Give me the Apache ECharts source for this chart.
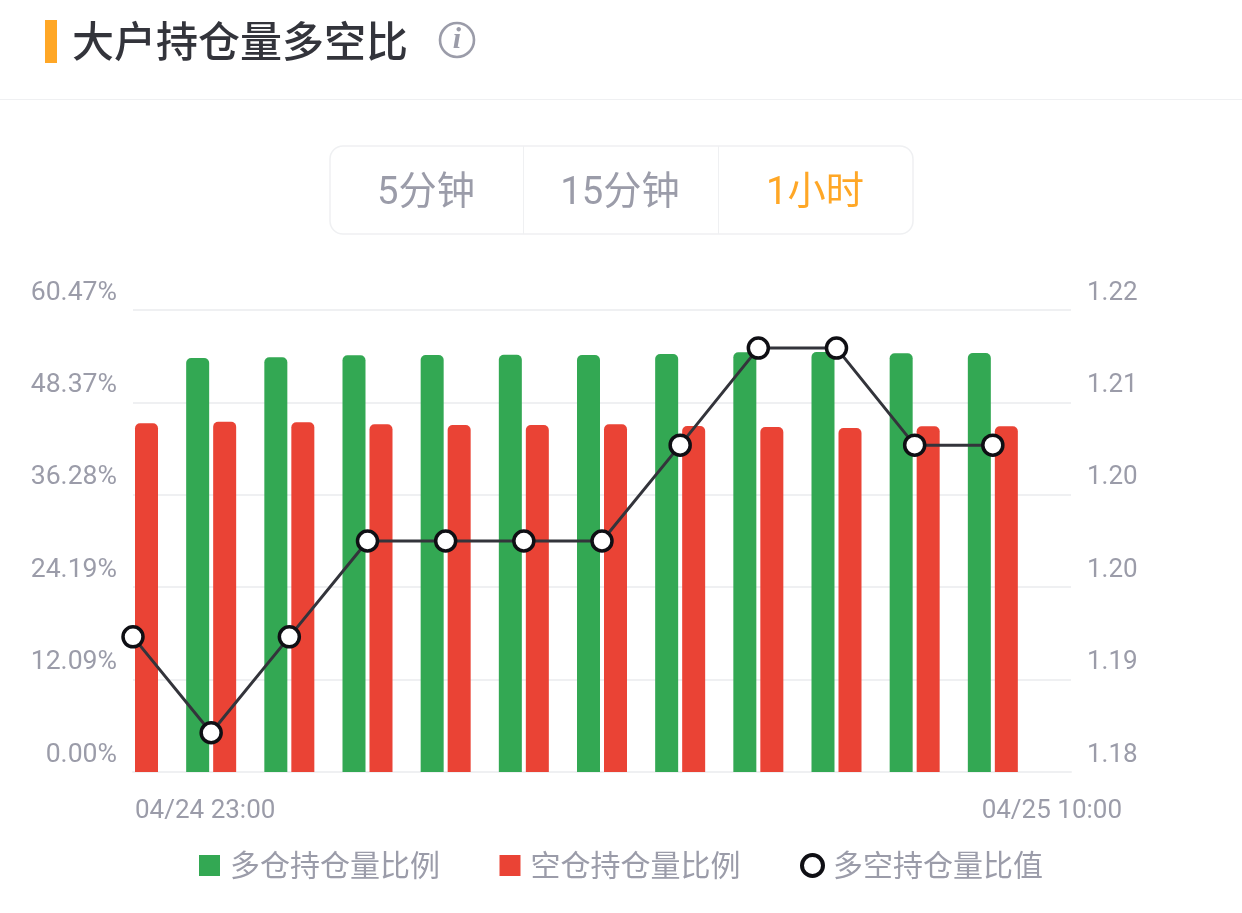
<!DOCTYPE html>
<html>
<head>
<meta charset="utf-8">
<style>html,body{margin:0;padding:0;background:#fff}#c{width:1242px;height:913px}</style>
<script src="https://cdn.jsdelivr.net/npm/echarts@6/dist/echarts.min.js"></script>
</head>
<body>
<div id="c"></div>
<script>
const timeLabels = ['04/24 23:00','04/25 00:00','04/25 01:00','04/25 02:00','04/25 03:00','04/25 04:00','04/25 05:00','04/25 06:00','04/25 07:00','04/25 08:00','04/25 09:00','04/25 10:00',''];
const longShare = [null,54.19,54.28,54.54,54.58,54.62,54.58,54.71,54.93,54.97,54.80,54.84];
const shortShare = [45.64,45.85,45.78,45.52,45.42,45.42,45.50,45.29,45.15,45.02,45.26,45.26];
const ratio = [1.1917,1.1834,1.1917,1.2000,1.2000,1.2000,1.2000,1.2083,1.2167,1.2167,1.2083,1.2083];
const leftTicks = [0,12.0932,24.1864,36.2796,48.3728,60.466];
const rightTicks = [1.18,1.188,1.196,1.204,1.212,1.22];
const seriesNames = ['多仓持仓量比例','空仓持仓量比例','多空持仓量比值'];
const tabs = ['5分钟','15分钟','1小时'];

const FONT = 'Roboto, "Noto Sans CJK SC", sans-serif';
const GREY = '#9b9ca9';
const LINE = '#eff0f2';
const GREEN = '#33a853';
const RED = '#ea4335';
const ORANGE = '#ffa726';

const chart = echarts.init(document.getElementById('c'), null, {renderer:'canvas'});
chart.setOption({
  backgroundColor:'#fff',
  animation:false,
  textStyle:{fontFamily:FONT},
  grid:{left:133,right:171,top:310,height:462,containLabel:false},
  legend:{
    left:'center', top:848, itemWidth:21, itemHeight:21, itemGap:59.5,
    formatter:'{t|{name}}',
    textStyle:{color:GREY,fontSize:30,fontFamily:FONT,padding:[0,0,0,5],
      rich:{t:{color:GREY,fontSize:30,fontFamily:FONT,padding:[6,0,0,0]}}},
    data:[
      {name:seriesNames[0],icon:'rect'},
      {name:seriesNames[1],icon:'rect'},
      {name:seriesNames[2],icon:'circle',itemStyle:{color:'#fff',borderColor:'#0f0f14',borderWidth:4}}
    ]
  },
  xAxis:{
    type:'category', boundaryGap:false,
    data:timeLabels.map((t,i)=>{
      if(i===0) return {value:t,textStyle:{align:'left',padding:[0,0,0,2]}};
      if(i===11) return {value:t,textStyle:{align:'center',padding:[0,0,0,118]}};
      return t;
    }),
    axisLine:{show:true,lineStyle:{color:LINE,width:2}},
    axisTick:{show:false},
    axisLabel:{
      color:GREY,fontSize:26,margin:26,fontFamily:FONT,
      interval:(i)=>i===0||i===11
    },
    splitLine:{show:false}
  },
  yAxis:[
    {type:'value',min:0,max:60.466,
      axisLine:{show:false},axisTick:{show:false},
      axisLabel:{color:GREY,fontSize:26.6,margin:16,fontFamily:FONT,verticalAlign:'bottom',lineHeight:34,
        customValues:leftTicks,formatter:v=>v.toFixed(2)+'%'},
      splitLine:{show:true,lineStyle:{color:LINE,width:2}},
      interval:12.0932
    },
    {type:'value',min:1.18,max:1.22,position:'right',
      axisLine:{show:false},axisTick:{show:false},
      axisLabel:{color:GREY,fontSize:26,margin:16,fontFamily:FONT,verticalAlign:'bottom',lineHeight:34,
        customValues:rightTicks,formatter:v=>v.toFixed(2)},
      splitLine:{show:false}
    }
  ],
  series:[
    {name:seriesNames[0],type:'bar',yAxisIndex:0,data:longShare,barWidth:23,barGap:'17.4%',
      itemStyle:{color:GREEN,borderRadius:[5,5,0,0]}},
    {name:seriesNames[1],type:'bar',yAxisIndex:0,data:shortShare,barWidth:23,barGap:'17.4%',
      itemStyle:{color:RED,borderRadius:[5,5,0,0]}},
    {name:seriesNames[2],type:'line',yAxisIndex:1,data:ratio,symbol:'circle',symbolSize:20,showSymbol:true,
      clip:false,z:5,
      lineStyle:{color:'#33343b',width:3},
      itemStyle:{color:'#fff',borderColor:'#0f0f14',borderWidth:3.5}}
  ],
  graphic:[
    {type:'rect',shape:{x:45,y:20,width:12,height:43},style:{fill:ORANGE}},
    {type:'text',x:72,y:41.5,style:{text:'大户持仓量多空比',fill:'#33343b',font:'500 42px "Noto Sans CJK SC"',verticalAlign:'middle'}},
    {type:'circle',shape:{cx:457,cy:40,r:17},style:{fill:'none',stroke:GREY,lineWidth:2.6}},
    {type:'text',x:457,y:40,style:{text:'i',fill:GREY,font:'italic 600 30px "Liberation Serif"',align:'center',verticalAlign:'middle'}},
    {type:'rect',shape:{x:0,y:99,width:1242,height:1},style:{fill:LINE}},
    {type:'rect',shape:{x:330,y:146,width:583,height:88,r:13},style:{fill:'#fff',stroke:LINE,lineWidth:1.5}},
    {type:'rect',shape:{x:523,y:146,width:1,height:88},style:{fill:LINE}},
    {type:'rect',shape:{x:718,y:146,width:1,height:88},style:{fill:LINE}},
    {type:'text',x:426,y:194,style:{text:tabs[0],fill:GREY,font:'400 38.2px Roboto, "Noto Sans CJK SC"',align:'center',verticalAlign:'middle'}},
    {type:'text',x:620,y:194,style:{text:tabs[1],fill:GREY,font:'400 38.2px Roboto, "Noto Sans CJK SC"',align:'center',verticalAlign:'middle'}},
    {type:'text',x:815,y:194,style:{text:tabs[2],fill:ORANGE,font:'400 38.2px Roboto, "Noto Sans CJK SC"',align:'center',verticalAlign:'middle'}}
  ]
});
</script>
</body>
</html>
